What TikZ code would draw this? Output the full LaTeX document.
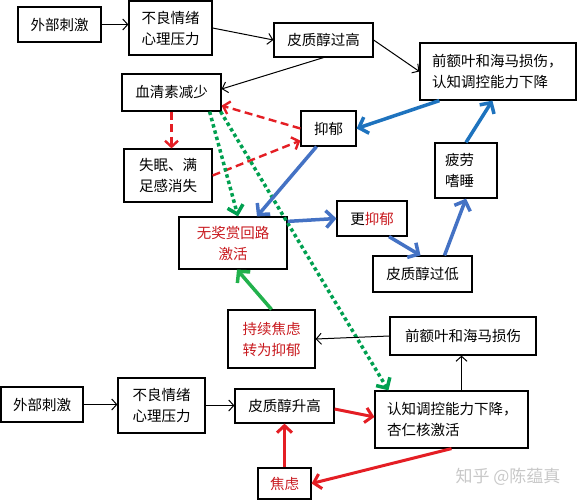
\documentclass[tikz,border=0pt]{standalone}
\usepackage{fontspec}
\setmainfont{Noto Sans CJK SC}
\usepackage{tikz}
\usetikzlibrary{arrows.meta}
\definecolor{arrred}{RGB}{228,30,36}
\definecolor{txtred}{RGB}{200,25,30}
\definecolor{deepblue}{RGB}{30,115,190}
\definecolor{softblue}{RGB}{68,114,196}
\definecolor{dotgreen}{RGB}{0,160,80}
\definecolor{leafgreen}{RGB}{34,177,76}
\definecolor{wmgray}{RGB}{200,200,200}

\begin{document}
\begin{tikzpicture}[x=1pt,y=-1pt,font=\fontsize{14.5}{21}\selectfont,
 box/.style={draw, line width=1.2pt, align=center, inner sep=0pt},
 lbox/.style={box, align=left, inner xsep=12pt},
 blk/.style={-{Straight Barb[length=5pt,width=11pt]}, line width=1pt},
 redarr/.style={-{Straight Barb[length=7pt,width=15pt]}, line width=3pt, color=arrred},
 reddash/.style={-{Straight Barb[length=6pt,width=13pt]}, line width=2.4pt, color=arrred, dash pattern=on 8pt off 4.5pt},
 bluearr/.style={-{Straight Barb[length=8pt,width=17pt]}, line width=3.5pt, color=softblue},
 deeparr/.style={-{Straight Barb[length=8pt,width=17pt]}, line width=3.5pt, color=deepblue},
 dotarr/.style={-{Straight Barb[length=8pt,width=16pt]}, line width=3.5pt, color=dotgreen, dash pattern=on 3.5pt off 3pt},
 greenarr/.style={-{Straight Barb[length=8pt,width=17pt]}, line width=3.5pt, color=leafgreen}]
\useasboundingbox (0,0) rectangle (577,500);
\node[box, minimum width=83pt, minimum height=35pt] (ext1) at (59.5,24.5) {外部刺激};
\node[box, minimum width=83pt, minimum height=54pt] (mood1) at (170.5,28) {不良情绪\\心理压力};
\node[box, minimum width=99pt, minimum height=34pt] (cortH) at (323.5,40) {皮质醇过高};
\node[lbox, text width=132pt, minimum height=57pt] (pfc1) at (498,71.5) {前额叶和海马损伤，\\认知调控能力下降};
\node[box, minimum width=99pt, minimum height=37pt] (sero) at (171.5,92.5) {血清素减少};
\node[box, minimum width=55pt, minimum height=35pt] (dep) at (328.5,128.5) {抑郁};
\node[box, minimum width=88pt, minimum height=53pt] (insom) at (168,175.5) {失眠、满\\足感消失};
\node[lbox, inner xsep=10pt, text width=42pt, minimum height=55pt] (fatig) at (466,170.5) {疲劳\\嗜睡};
\node[box, minimum width=108pt, minimum height=52pt, text=txtred] (reward) at (233,243) {无奖赏回路\\激活};
\node[box, minimum width=70pt, minimum height=35pt] (more) at (372,218.5) {更\textcolor{txtred}{抑郁}};
\node[box, minimum width=99pt, minimum height=36pt] (cortL) at (422.5,274) {皮质醇过低};
\node[box, minimum width=87pt, minimum height=58pt, text=txtred] (anx2dep) at (271.5,339) {持续焦虑\\转为抑郁};
\node[box, minimum width=146pt, minimum height=38pt] (pfc2) at (463,336) {前额叶和海马损伤};
\node[box, minimum width=82pt, minimum height=35pt] (ext2) at (42,404.5) {外部刺激};
\node[box, minimum width=87pt, minimum height=55pt] (mood2) at (161.5,405.5) {不良情绪\\心理压力};
\node[box, minimum width=99pt, minimum height=34pt] (cortR) at (284.5,406) {皮质醇升高};
\node[lbox, text width=129pt, minimum height=57pt] (cog) at (451.5,419.5) {认知调控能力下降，\\杏仁核激活};
\node[box, minimum width=53pt, minimum height=31pt, text=txtred] (anx) at (284.5,483.5) {焦虑};
\node[text=wmgray, font=\fontsize{17}{20}\selectfont] (wm) at (508,477) {知乎 @陈蕴真};
\draw[blk] (ext1.east) -- (ext1.east -| mood1.west); \draw[blk] (mood1.east) -- (cortH.west);
\draw[blk] (cortH.east) -- (pfc1.west); \draw[blk] (cortH.south) -- ([yshift=3.5pt]sero.east);
\draw[deeparr] ([xshift=20pt]pfc1.south west) -- (dep.east);
\draw[deeparr] (fatig.north) -- ([xshift=73pt]pfc1.south west);
\draw[reddash] (dep.west) -- ([yshift=6pt]sero.south east);
\draw[reddash] (insom.east) -- ([yshift=6pt]dep.south west);
\draw[reddash] (sero.south) -- (sero.south |- insom.north);
\draw[dotarr] ([xshift=-12pt]sero.south east) -- ([xshift=5pt]reward.north);
\draw[dotarr] ([xshift=-1pt]sero.south east) -- ([xshift=14pt]cog.north west);
\draw[bluearr] ([xshift=-12pt]dep.south) -- ([xshift=24pt]reward.north);
\draw[bluearr] ([yshift=-5pt]reward.north east) -- (more.west);
\draw[bluearr] ([xshift=17pt]more.south) -- ([xshift=-2pt]cortL.north);
\draw[bluearr] ([xshift=22pt]cortL.north) -- (fatig.south);
\draw[greenarr] (anx2dep.north) -- ([xshift=4pt]reward.south);
\draw[blk] (pfc2.west) -- (anx2dep.east);
\draw[blk] ([xshift=10pt]cog.north) -- ([xshift=10pt]cog.north |- pfc2.south);
\draw[blk] (ext2.east) -- (ext2.east -| mood2.west); \draw[blk] (mood2.east) -- (mood2.east -| cortR.west);
\draw[redarr] ([yshift=-3pt]cortR.east) -- ([yshift=2.5pt]cog.west);
\draw[redarr] (cog.south) -- (anx.east); \draw[redarr] (anx.north) -- (cortR.south);
\end{tikzpicture}
\end{document}
